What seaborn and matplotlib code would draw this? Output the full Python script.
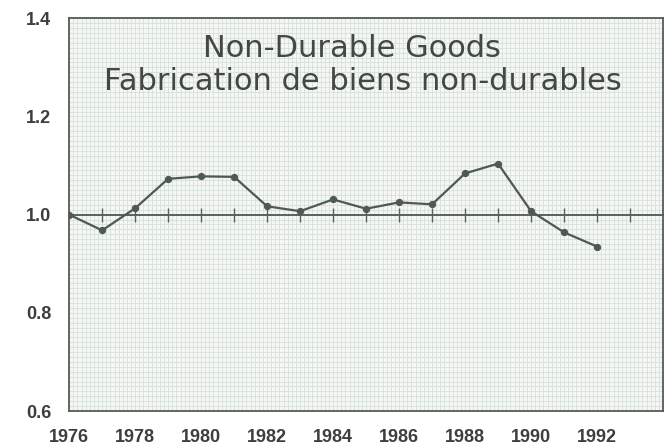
import matplotlib
matplotlib.use("Agg")
import matplotlib.pyplot as plt
import seaborn as sns
import pandas as pd
from matplotlib.ticker import MultipleLocator, FixedLocator, NullFormatter

# ------------------ DATOS ------------------ #
years = [1976, 1977, 1978, 1979, 1980, 1981, 1982, 1983, 1984,
         1985, 1986, 1987, 1988, 1989, 1990, 1991, 1992]
values = [1.000, 0.968, 1.013, 1.073, 1.078, 1.077, 1.017, 1.007, 1.031,
          1.012, 1.025, 1.021, 1.084, 1.104, 1.007, 0.964, 0.935]
year_labels = ["1976", "1978", "1980", "1982", "1984", "1986", "1988", "1990", "1992"]
y_ticks = [0.6, 0.8, 1.0, 1.2, 1.4]
title_en = "Non-Durable Goods"
title_fr = "Fabrication de biens non-durables"

df = pd.DataFrame({"year": years, "value": values})

# ------------------ ESTILO ------------------ #
sns.set_style("white")
plt.rcParams["font.family"] = ["Liberation Sans", "DejaVu Sans"]

ink = "#3c3f3c"
line_col = "#4e5a50"

fig = plt.figure(figsize=(6.65, 4.45), dpi=100)
rect = [0.104, 0.0764, 0.893, 0.8825]

# papel milimetrado de fondo
ax_bg = fig.add_axes(rect, zorder=0)
ax_bg.set_facecolor("#f4f7f4")
ax_bg.set_xlim(1976, 1994)
ax_bg.set_ylim(0.6, 1.4)
ax_bg.xaxis.set_major_locator(MultipleLocator(0.125))
ax_bg.yaxis.set_major_locator(MultipleLocator(0.01))
ax_bg.grid(True, color="#d6e0d9", lw=0.6)
ax_bg.tick_params(length=0, labelbottom=False, labelleft=False)
for s in ax_bg.spines.values():
    s.set_visible(False)

ax = fig.add_axes(rect, zorder=1)
ax.set_facecolor("none")

sns.lineplot(data=df, x="year", y="value", ax=ax, color=line_col, lw=1.6,
             marker="o", markersize=4.5, markeredgecolor=line_col, zorder=5)

ax.set_xlim(1976, 1994)
ax.set_ylim(0.6, 1.4)
ax.set_xlabel("")
ax.set_ylabel("")

ax.xaxis.set_major_locator(FixedLocator([int(t) for t in year_labels]))
ax.set_xticklabels(year_labels)
ax.xaxis.set_minor_locator(FixedLocator(list(range(1977, 1994, 2))))
ax.set_yticks(y_ticks)
ax.set_yticklabels([f"{t:.1f}" for t in y_ticks])

ax.tick_params(axis="x", which="both", direction="out", length=4, width=1.1,
               color=ink, pad=9)
ax.tick_params(axis="x", which="major", labelsize=13, labelcolor=ink)
ax.tick_params(axis="y", direction="out", length=4, width=1.1, color=ink,
               pad=9, labelsize=13, labelcolor=ink)
for lab in ax.get_xticklabels() + ax.get_yticklabels():
    lab.set_fontweight("bold")

for s in ax.spines.values():
    s.set_visible(True)
    s.set_color("#555a55")
    s.set_linewidth(1.3)

# eje de referencia en 1.0 con marcas anuales
ref = ax.secondary_xaxis(0.5)
ref.xaxis.set_major_locator(FixedLocator(list(range(1977, 1994))))
ref.xaxis.set_major_formatter(NullFormatter())
ref.tick_params(direction="inout", length=10, width=1.0, color="#5a625b")
ref.spines["bottom"].set_color("#5a625b")
ref.spines["bottom"].set_linewidth(1.4)
ref.spines["top"].set_color("#5a625b")
ref.spines["top"].set_linewidth(1.4)

# título dentro del gráfico
ax.text(0.477, 0.902, title_en, transform=ax.transAxes, ha="center",
        va="baseline", fontsize=22, color="#444844", family=["DejaVu Sans"])
ax.text(0.494, 0.817, title_fr, transform=ax.transAxes, ha="center",
        va="baseline", fontsize=22, color="#444844", family=["DejaVu Sans"])

fig.savefig("out.png", dpi=100)
plt.close(fig)
